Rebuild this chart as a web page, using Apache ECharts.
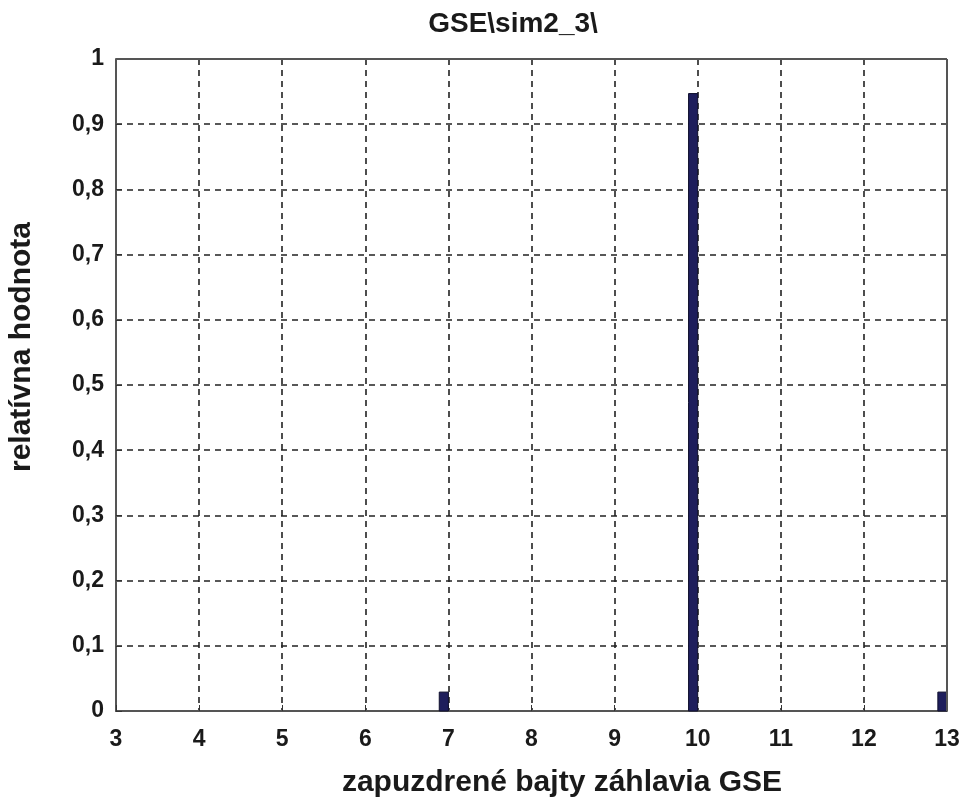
<!DOCTYPE html>
<html><head><meta charset="utf-8">
<script src="https://cdn.jsdelivr.net/npm/echarts@6/dist/echarts.min.js"></script>
<style>html,body{margin:0;padding:0;background:#fff}#c{width:966px;height:803px}</style>
</head><body><div id="c"></div>
<script>
const titleText = 'GSE\\sim2_3\\';
const xName = 'zapuzdrené bajty záhlavia GSE';
const yName = 'relatívna hodnota';
const xValues = [7, 10, 13];
const yValues = [0.029, 0.947, 0.029];
const xMin = 3, xMax = 13, yMin = 0, yMax = 1;

const chart = echarts.init(document.getElementById('c'));
const barW = 0.11;
const font = 'Arial, "Liberation Sans", sans-serif';
const txt = (s, size) => ({ text: s, fontFamily: font, fontWeight: 'bold', fontSize: size, fill: '#1a1a1a',
  align: 'center', verticalAlign: 'middle' });
chart.setOption({
  animation: false,
  grid: { left: 116, right: 19, top: 59, bottom: 92 },
  graphic: [
    { type: 'text', x: 513, y: 24, style: txt(titleText, 28) },
    { type: 'text', x: 562, y: 783, style: txt(xName, 30) },
    { type: 'text', x: 22, y: 347, rotation: Math.PI / 2, style: txt(yName, 30) }
  ],
  xAxis: {
    type: 'value', min: xMin, max: xMax, interval: 1,
    axisLine: { lineStyle: { color: '#555', width: 2 } },
    axisTick: { inside: true, length: 6, lineStyle: { color: '#333' } },
    axisLabel: { fontFamily: font, fontWeight: 'bold', fontSize: 23, color: '#1a1a1a', margin: 17 },
    splitLine: { show: true, lineStyle: { color: '#222', type: [6, 5], width: 1.6 } }
  },
  yAxis: {
    type: 'value', min: yMin, max: yMax, interval: 0.1,
    axisLine: { show: true, lineStyle: { color: '#555', width: 2 } },
    axisTick: { show: true, inside: true, length: 6, lineStyle: { color: '#333' } },
    axisLabel: { fontFamily: font, fontWeight: 'bold', fontSize: 23, color: '#1a1a1a', margin: 12,
      formatter: v => String(Math.round(v * 10) / 10).replace('.', ',') },
    splitLine: { show: true, lineStyle: { color: '#222', type: [6, 5], width: 1.6 } }
  },
  series: [
    { type: 'line', data: [[xMin, yMax], [xMax, yMax]], symbol: 'none', silent: true,
      lineStyle: { color: '#555', width: 2 }, z: 5 },
    { type: 'line', data: [[xMax, yMin], [xMax, yMax]], symbol: 'none', silent: true,
      lineStyle: { color: '#555', width: 2 }, z: 5 },
    {
      type: 'custom',
      data: xValues.map((x, i) => [x, yValues[i]]),
      renderItem: (params, api) => {
        const x = api.value(0), v = api.value(1);
        const p1 = api.coord([x - barW, v]);
        const p2 = api.coord([x, 0]);
        return { type: 'rect', shape: { x: p1[0], y: p1[1], width: p2[0] - p1[0], height: p2[1] - p1[1] },
          style: { fill: '#1e1e5c', stroke: '#10102e', lineWidth: 1 } };
      },
      z: 4
    }
  ]
});
</script></body></html>
